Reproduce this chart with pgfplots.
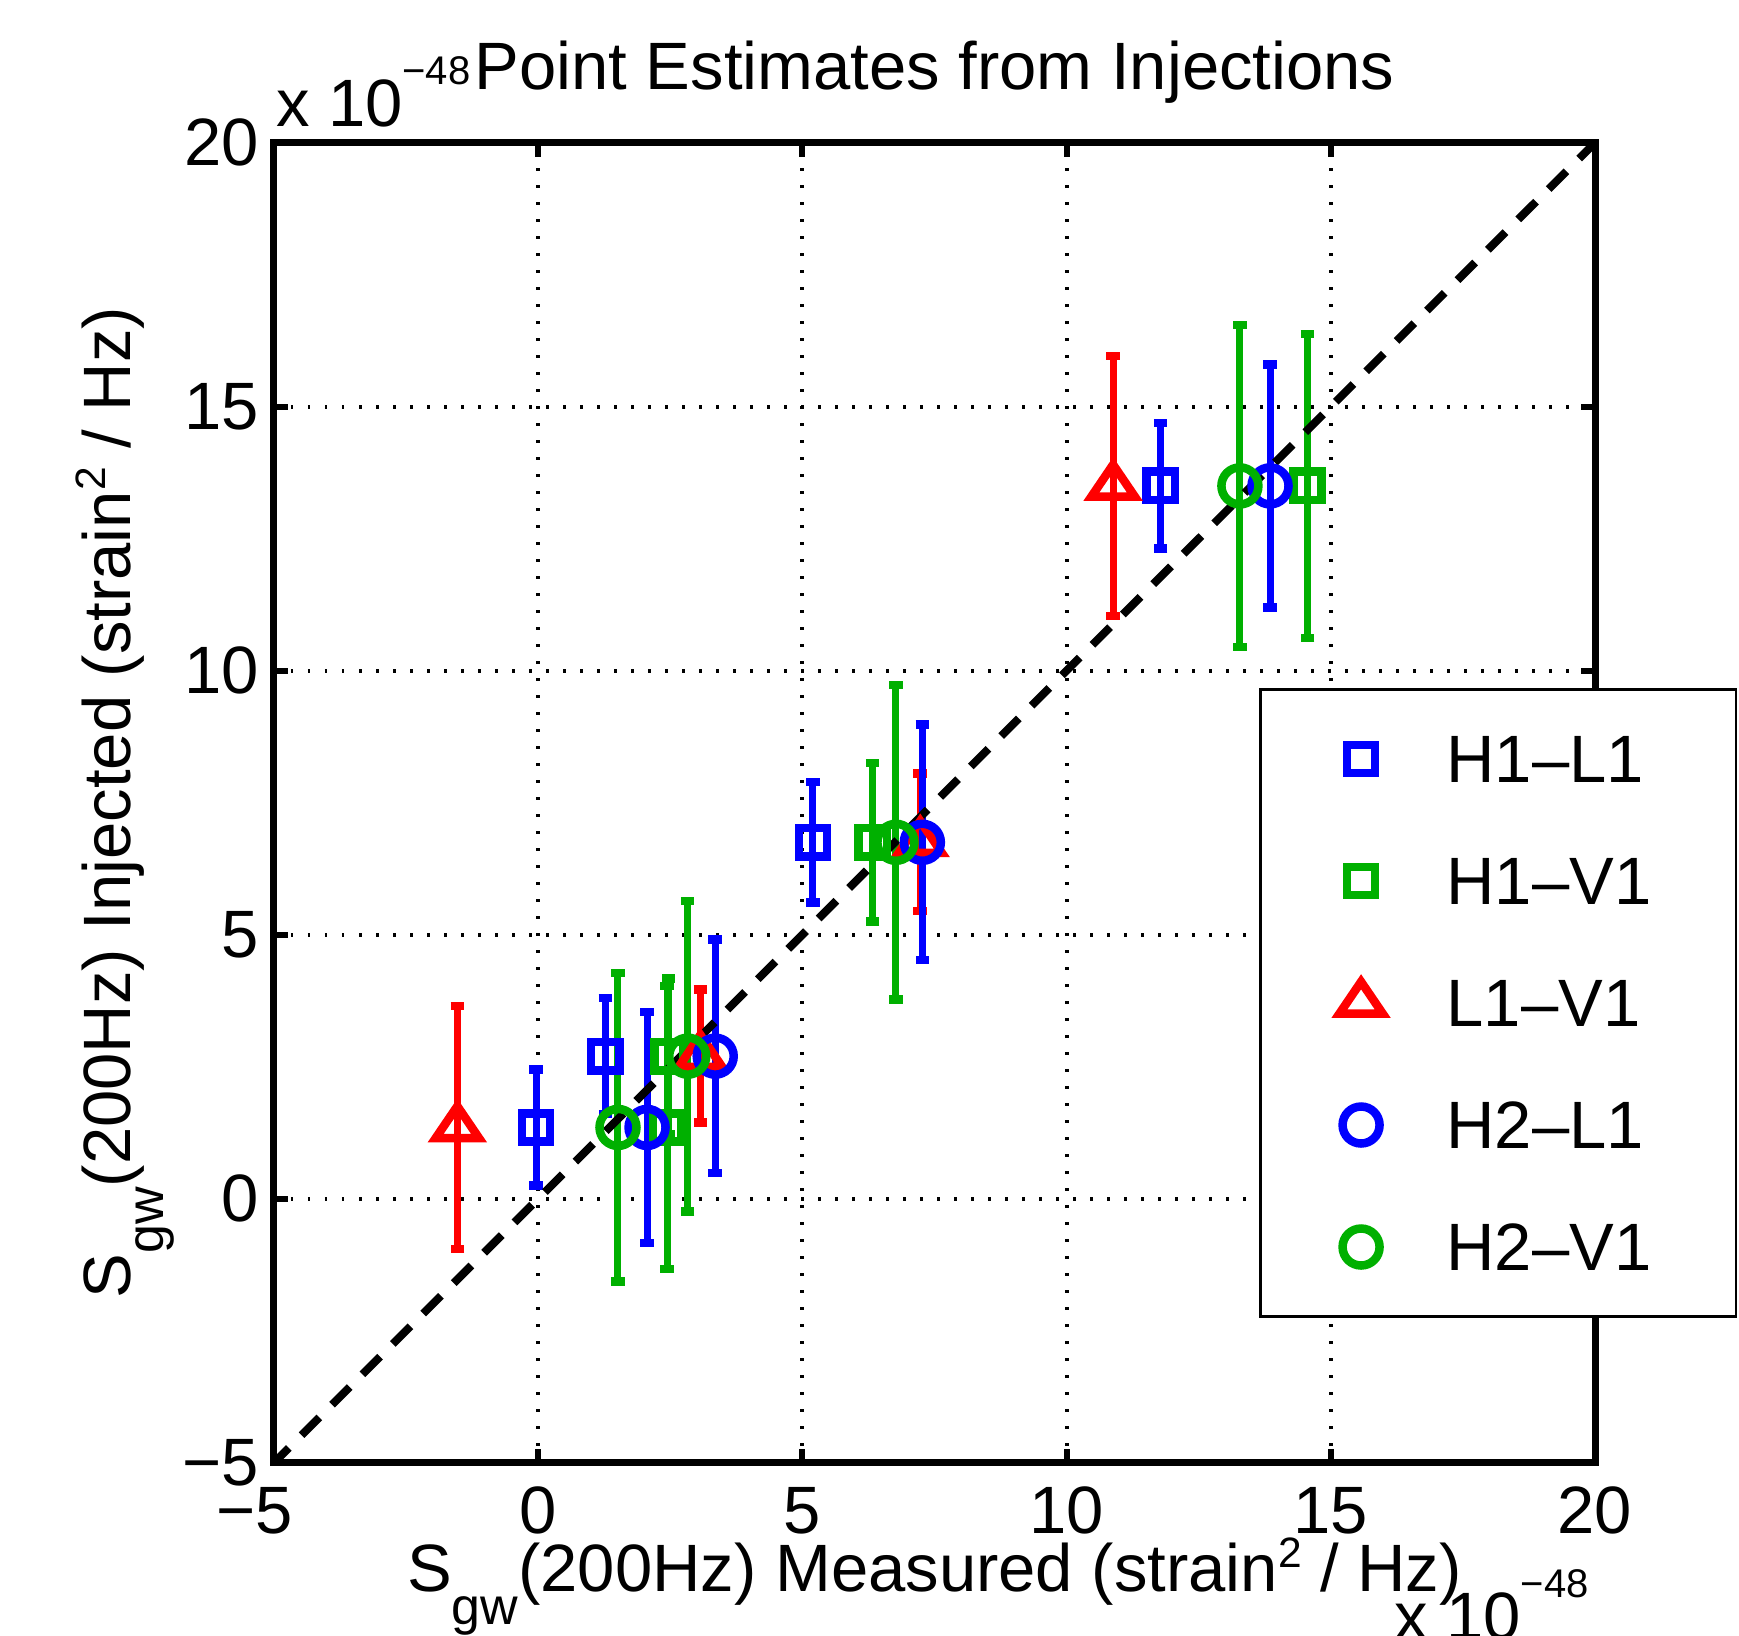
\documentclass[border=0pt]{standalone}
\usepackage{fontspec}
\setmainfont{Liberation Sans}
\usepackage{pgfplots}
\pgfplotsset{compat=1.18}
\definecolor{mblue}{rgb}{0,0,1}
\definecolor{mgreen}{rgb}{0,0.69,0}
\definecolor{mred}{rgb}{1,0,0}
\newcommand{\Sgw}{S\raisebox{-6.6pt}{\fontsize{10.4}{12}\selectfont gw}}
\newcommand{\sq}{\raisebox{4.9pt}{\fontsize{8.5}{10}\selectfont 2}}
\newcommand{\xten}{x 10\raisebox{8.4pt}{\fontsize{8}{9}\selectfont −48}}
\pgfplotsset{
  pts/.style={only marks,
    legend image code/.code={\path[draw=none,fill=none] (0pt,-1pt) rectangle (17pt,1pt); \draw[##1] plot coordinates {(8.5pt,0pt)};}},
  eb/.style={error bars/.cd, y dir=both, y explicit,
    error bar style={line width=1.4pt, solid},
    error mark=-, error mark options={rotate=90, line width=1.7pt, mark size=1.35pt, solid}},
}
\begin{document}
\fontsize{13.4}{16}\selectfont
\begin{tikzpicture}
\begin{axis}[
  at={(0pt,0pt)}, anchor=south west,
  scale only axis, width=264.2pt, height=264pt,
  xmin=-5, xmax=20, ymin=-5, ymax=20,
  xtick={-5,0,5,10,15,20}, ytick={-5,0,5,10,15,20},
  xticklabels={\llap{−}5,0,5,10,15,20},
  yticklabels={−5,0,5,10,15,20},
  /pgf/number format/assume math mode=true,
  tick align=inside,
  major tick length=2.8pt,
  tick style={black, line width=1.2pt},
  axis line style={black, line width=1.4pt},
  grid=major,
  major grid style={black, line width=0.8pt, dash pattern=on 0.5pt off 2.9pt},
  xticklabel style={anchor=base, inner sep=0pt, yshift=-14.2pt},
  yticklabel style={anchor=east, inner sep=0pt, xshift=-2.8pt},
  title={Point Estimates from Injections},
  every axis title/.style={at={(axis description cs:0.5,1)}, anchor=base, yshift=10.7pt, inner sep=0pt},
  xlabel={\Sgw(200Hz) Measured (strain\sq{} / Hz)},
  ylabel={\Sgw(200Hz) Injected (strain\sq{} / Hz)},
  every axis x label/.style={at={(axis description cs:0.5,0)}, anchor=base, yshift=-25.8pt, inner sep=0pt},
  every axis y label/.style={at={(axis description cs:-0.109,0.5)}, rotate=90, anchor=base, inner sep=0pt},
  legend cell align=left,
  legend style={at={(0.7459,0.1098)}, anchor=south west, draw=black, line width=0.5pt, fill=white,
    inner xsep=11.6pt, inner ysep=1.7pt, row sep=0pt, column sep=8.6pt,
    nodes={inner sep=0pt, text height=16.9pt, text depth=7.5pt, text width=46.3pt, anchor=west}},
]
\addplot[pts, color=mblue, mark=square, mark size=2.83pt, mark options={line width=1.7pt, solid}, eb]
  table[x=x, y=y, y error=e] {
x y e
-0.04 1.35 1.10
1.27 2.70 1.10
5.20 6.75 1.14
11.78 13.5 1.19
};
\addlegendentry{H1--L1}
\addplot[pts, color=mgreen, mark=square, mark size=2.83pt, mark options={line width=1.7pt, solid}, eb]
  table[x=x, y=y, y error=e] {
x y e
2.44 1.35 2.68
2.47 2.70 1.47
6.33 6.75 1.50
14.56 13.5 2.88
};
\addlegendentry{H1--V1}
\addplot[pts, color=mred, mark=triangle, mark size=5pt, mark options={line width=1.7pt, solid, yscale=0.85}, eb]
  table[x=x, y=y, y error=e] {
x y e
-1.53 1.35 2.30
3.07 2.70 1.26
7.23 6.75 1.30
10.88 13.5 2.46
};
\addlegendentry{L1--V1}
\addplot[pts, color=mblue, mark=o, mark size=3.7pt, mark options={line width=1.7pt, solid}, eb]
  table[x=x, y=y, y error=e] {
x y e
2.06 1.35 2.19
3.35 2.70 2.21
7.27 6.75 2.23
13.85 13.5 2.30
};
\addlegendentry{H2--L1}
\addplot[pts, color=mgreen, mark=o, mark size=3.7pt, mark options={line width=1.7pt, solid}, eb]
  table[x=x, y=y, y error=e] {
x y e
1.51 1.35 2.92
2.83 2.70 2.94
6.77 6.75 2.98
13.28 13.5 3.05
};
\addlegendentry{H2--V1}
\addplot[black, no marks, line width=1.6pt, dash pattern=on 5pt off 3.6pt, dash phase=0.8pt, forget plot]
  coordinates {(-5,-5) (20,20)};
\end{axis}
\node[anchor=base west, inner sep=0pt] at (0.2pt,267.3pt) {\xten};
\node[anchor=base west, inner sep=0pt] at (223.8pt,-35.4pt) {\xten};
\pgfresetboundingbox
\useasboundingbox (-54.8pt,-34.46pt) rectangle (293pt,292.54pt);
\end{tikzpicture}
\end{document}
